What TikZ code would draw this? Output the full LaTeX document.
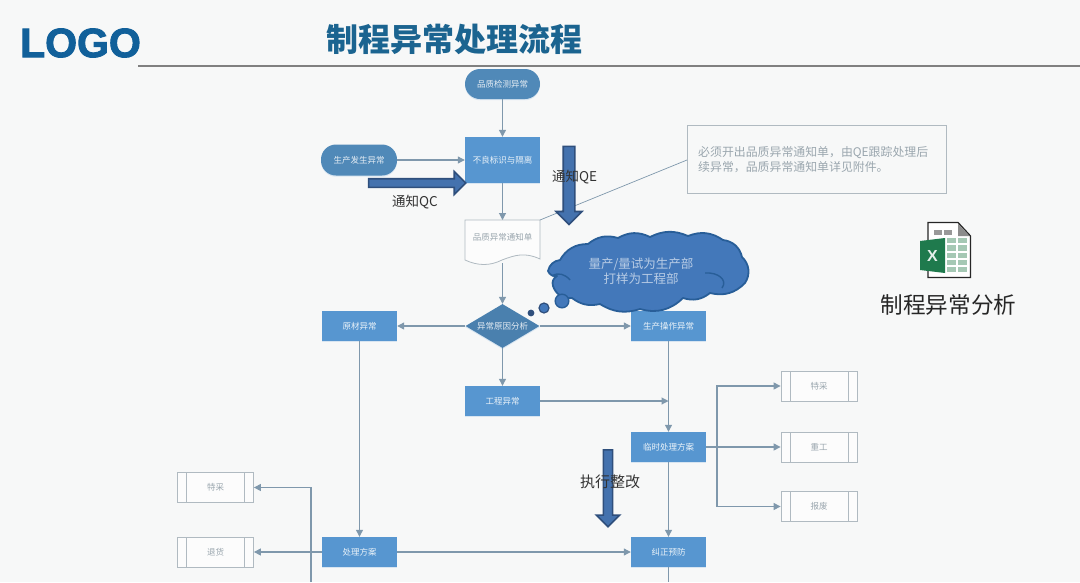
\documentclass[tikz,border=0pt]{standalone}
\usepackage{fontspec}
\setmainfont{Noto Sans CJK SC}
\newfontfamily\latinbold{Liberation Sans}
\newfontfamily\logofont[FakeBold=2.2]{Liberation Sans Bold}
\usetikzlibrary{arrows.meta,shapes.geometric,shapes.arrows,shadows}
\definecolor{bgc}{HTML}{F7F8F8}
\definecolor{boxc}{HTML}{5796D0}
\definecolor{pillc}{HTML}{5089B8}
\definecolor{diac}{HTML}{4A80AE}
\definecolor{linec}{HTML}{7F98AC}
\definecolor{fatc}{HTML}{4472AE}
\definecolor{fatd}{HTML}{2F4F7C}
\definecolor{cloudc}{HTML}{4378BA}
\definecolor{cloudd}{HTML}{285E98}
\definecolor{titlec}{HTML}{1B6490}
\definecolor{logoc}{HTML}{11609A}
\definecolor{graytxt}{HTML}{9AA6AE}
\definecolor{boxedge}{HTML}{B0BAC1}
\definecolor{xlgreen}{HTML}{1F7A4D}
\definecolor{xlcell}{HTML}{A5C8B4}
\tikzset{
  softshadow/.style={drop shadow={shadow xshift=0pt,shadow yshift=-1.2pt,fill=boxc!45,opacity=.45}},
  procbox/.style={rectangle,fill=boxc,text=white!88!boxc,minimum width=75pt,minimum height=30pt,inner sep=0pt,font=\fontsize{8.5}{10}\selectfont,softshadow},
  pillbox/.style={rectangle,rounded corners=15pt,fill=pillc,text=white!85!pillc,minimum width=75pt,minimum height=30pt,inner sep=0pt,font=\fontsize{8.5}{10}\selectfont,softshadow},
  subproc/.style={rectangle,draw=boxedge,line width=.8pt,fill=white!60!bgc,text=graytxt,minimum width=76pt,minimum height=30pt,inner sep=0pt,font=\fontsize{8.5}{10}\selectfont,
    path picture={\draw[boxedge,line width=.8pt]
      ([xshift=9pt]path picture bounding box.north west)--([xshift=9pt]path picture bounding box.south west)
      ([xshift=-9pt]path picture bounding box.north east)--([xshift=-9pt]path picture bounding box.south east);}},
  flowline/.style={draw=linec,line width=1.1pt},
  flow/.style={flowline,-{Triangle[length=7pt,width=7pt]}},
  fatarrow/.style={single arrow,draw=fatd,fill=fatc,line width=1.6pt,inner sep=0pt,anchor=center},
  bigtext/.style={text=black!80,font=\fontsize{13.5}{16}\selectfont,inner sep=0pt}
}
\begin{document}
\begin{tikzpicture}[x=1pt,y=-1pt]
\useasboundingbox (0,0) rectangle (1080,582);
\fill[bgc] (0,0) rectangle (1080,582);
% header
\node[text=logoc,inner sep=0pt,font=\logofont\fontsize{41}{41}\selectfont] (logo) at (80.5,43) {LOGO};
\node[text=titlec,inner sep=0pt,font=\bfseries\fontsize{32}{34}\selectfont] (title) at (454.5,39) {制程异常处理流程};
\fill[black!50] (138,64.6) rectangle (1080,66.6);
% nodes
\node[pillbox] (start) at (502.5,84) {品质检测异常};
\node[procbox,minimum height=46pt] (isolate) at (502.5,160) {不良标识与隔离};
\node[pillbox,minimum width=76pt,minimum height=31pt] (prod) at (359,160) {生产发生异常};
% document
\draw[draw=boxedge,line width=.8pt,fill=white!60!bgc] (465,220) -- (540,220) -- (540,259)
  .. controls (525,252) and (515,255) .. (502,260) .. controls (490,266) and (478,266) .. (465,260) -- cycle;
\node[text=graytxt,inner sep=0pt,font=\fontsize{8.5}{10}\selectfont] (doc) at (502.5,237) {品质异常通知单};
\coordinate (docNE) at (540,220);
\coordinate (docS) at (502.5,263);
\coordinate (docN) at (502.5,220);
\node[diamond,aspect=1.7,fill=diac,text=white!85!diac,minimum width=74pt,minimum height=44pt,inner sep=0pt,font=\fontsize{8.5}{10}\selectfont,softshadow] (cause) at (502.5,326) {异常原因分析};
\node[procbox] (raw) at (359.5,326) {原材异常};
\node[procbox] (oper) at (668.5,326) {生产操作异常};
\node[procbox] (eng) at (502.5,401) {工程异常};
\node[procbox] (temp) at (668.5,447) {临时处理方案};
\node[procbox] (plan) at (359.5,552) {处理方案};
\node[procbox] (correct) at (668.5,552) {纠正预防};
\node[subproc] (r1) at (819,386) {特采};
\node[subproc] (r2) at (819,447) {重工};
\node[subproc] (r3) at (819,506.5) {报废};
\node[subproc] (l1) at (215.5,487.5) {特采};
\node[subproc] (l2) at (215.5,552) {退货};
\node[rectangle,draw=boxedge,line width=.8pt,minimum width=259pt,minimum height=68pt,inner sep=0pt] (note) at (816.5,159) {};
\coordinate (noteL) at (687,160);
% connectors
\draw[flow] (start) -- (isolate);
\draw[flow] (prod) -- (isolate);
\draw[flow] (isolate) -- (docN);
\draw[flow] (docS) -- (cause);
\draw[flow] (cause) -- (raw);
\draw[flow] (cause) -- (oper);
\draw[flow] (cause) -- (eng);
\draw[flow] (raw) -- (plan);
\draw[flow] (oper) -- (temp);
\coordinate (merge) at (oper|-eng);
\draw[flow] (eng) -- (merge);
\draw[flow] (temp) -- (correct);
\draw[flow] (plan) -- (correct);
\coordinate (rbus) at (717,447);
\draw[flow] (temp) -- (r2);
\draw[flow] (rbus) |- (r1);
\draw[flow] (rbus) |- (r3);
\draw[flow] (plan) -- (l2);
\coordinate (lbot) at (311,582);
\draw[flow] (lbot) |- (l1);
\coordinate (cbot) at (668.5,582);
\draw[flowline] (correct) -- (cbot);
\draw[draw=linec,line width=.7pt] (docNE) -- (noteL);
% cloud
\draw[draw=cloudd,line width=1.8pt,fill=cloudc,line join=round]
  (548,271) to[bend left=35] (560,260) to[bend left=30] (588,244) to[bend left=28] (618,238)
  to[bend left=28] (650,237) to[bend left=25] (688,236) to[bend left=28] (723,240)
  to[bend left=35] (742,257) to[bend left=40] (745,283) to[bend left=30] (710,293)
  to[bend left=28] (683,298) to[bend left=30] (640,309) to[bend left=25] (600,304)
  to[bend left=25] (572,298) to[bend left=40] (553,286) to[bend left=40] (557,276)
  to[bend left=40] cycle;
\draw[cloudd,line width=1.4pt] (705,273) .. controls (718,272) and (728,280) .. (722,288);
\draw[cloudd,line width=1.4pt] (552,276) .. controls (558,272) and (565,274) .. (570,280);
\draw[draw=cloudd,line width=1.4pt,fill=cloudc] (562,301) circle (6.8);
\draw[draw=fatd,line width=1.2pt,fill=cloudc] (544,308) circle (5);
\fill[fatd] (531,313) circle (3.4);
\node[text=white!62!cloudc,inner sep=0pt,align=center,font=\fontsize{12.5}{15}\selectfont] (cloudtxt) at (641,271) {量产/量试为生产部\\打样为工程部};
% note text
\node[anchor=west,text=graytxt,inner sep=0pt,align=left,font=\fontsize{11.9}{15}\selectfont] (notetxt) at (698,159.5) {必须开出品质异常通知单，由QE跟踪处理后\\续异常，品质异常通知单详见附件。};
% fat arrows
\node[fatarrow,minimum height=97pt,minimum width=14pt,inner ysep=3.5pt] (fatqc) at (415,183) {};
\node[fatarrow,rotate=-90,minimum height=78pt,minimum width=19pt,inner ysep=5pt] (fatqe) at (569,182.5) {};
\node[fatarrow,rotate=-90,minimum height=77pt,minimum width=17pt,inner ysep=3.8pt] (fatfix) at (608,486) {};
\node[bigtext] (qc) at (415,202) {通知QC};
\node[bigtext] (qe) at (574.5,177) {通知QE};
\node[bigtext,font=\fontsize{15}{17}\selectfont] (fix) at (610,482) {执行整改};
% excel icon
\draw[draw=black!85,line width=1.3pt,fill=white] (928,222.5) -- (958,222.5) -- (970.5,236) -- (970.5,277.5) -- (928,277.5) -- cycle;
\fill[black!45] (958,223.5) -- (969.5,236) -- (958,236) -- cycle;
\foreach \cx in {933.5,943.5} \fill[black!40] (\cx,230) rectangle ++(8.5,4.5);
\foreach \cy in {238,245.3,252.6,259.9,267.2}{
  \fill[xlcell] (947,\cy) rectangle ++(8.5,5.2);
  \fill[xlcell] (957.5,\cy) rectangle ++(9.5,5.2);
}
\fill[xlgreen] (920,241) -- (945,238) -- (945,273) -- (920,270) -- cycle;
\node[text=white!88!xlgreen,inner sep=0pt,font=\latinbold\bfseries\fontsize{16}{16}\selectfont] (xl) at (932.5,255.5) {X};
\node[text=black!85,inner sep=0pt,font=\fontsize{22.6}{24}\selectfont] (xltitle) at (948.5,305) {制程异常分析};
\end{tikzpicture}
\end{document}
